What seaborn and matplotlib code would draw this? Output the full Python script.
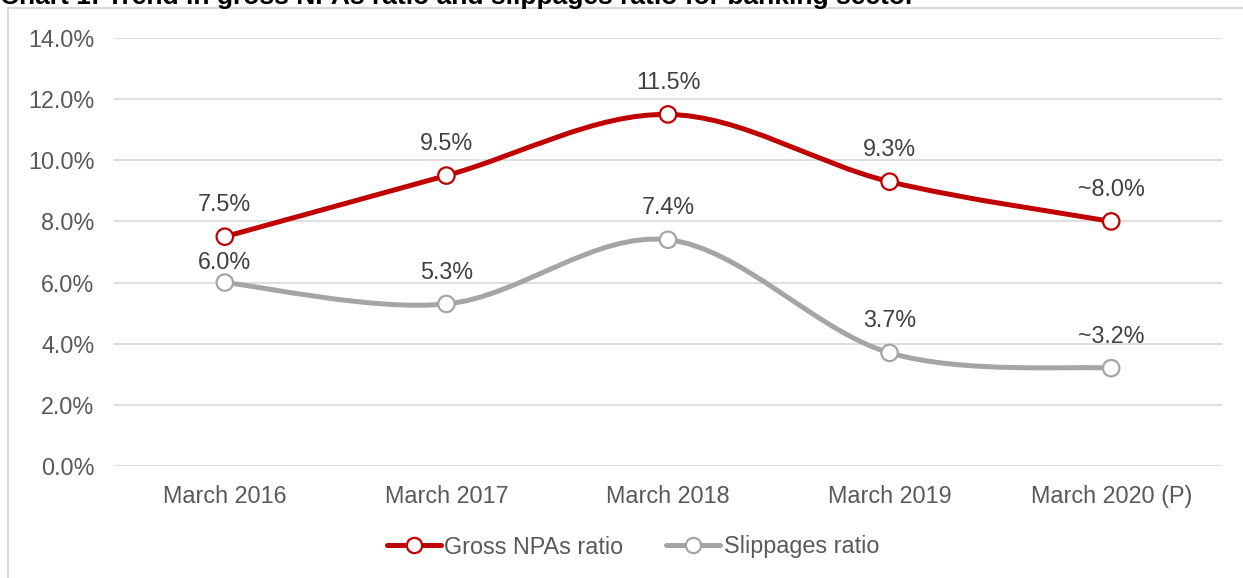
import numpy as np
import pandas as pd
import seaborn as sns
import matplotlib
matplotlib.use("Agg")
import matplotlib.pyplot as plt
from matplotlib.path import Path
from matplotlib.patches import PathPatch
from matplotlib.lines import Line2D

# ---- data ----
categories = ["March 2016", "March 2017", "March 2018", "March 2019", "March 2020 (P)"]
gross_npa = [7.5, 9.5, 11.5, 9.3, 8.0]
slippages = [6.0, 5.3, 7.4, 3.7, 3.2]
gross_labels = ["7.5%", "9.5%", "11.5%", "9.3%", "~8.0%"]
slip_labels = ["6.0%", "5.3%", "7.4%", "3.7%", "~3.2%"]
yticks = [0, 2, 4, 6, 8, 10, 12, 14]
title = "Chart 1: Trend in gross NPAs ratio and slippages ratio for banking sector"

RED = "#C00000"
GREY = "#A5A5A5"
FONT = "Liberation Sans"

sns.set_theme(style="white")
plt.rcParams["font.family"] = [FONT, "DejaVu Sans"]

W, H = 1243, 578
fig = plt.figure(figsize=(W / 100, H / 100), dpi=100)
ax = fig.add_axes([114 / W, 1 - 466 / H, (1222 - 114) / W, (466 - 38) / H])

df = pd.DataFrame({
    "x": list(range(len(categories))) * 2,
    "value": gross_npa + slippages,
    "series": ["Gross NPAs ratio"] * len(categories) + ["Slippages ratio"] * len(categories),
})


def smooth_path(xs, ys):
    """Catmull-Rom style Bezier path through the points (Excel-like smoothing)."""
    pts = np.column_stack([xs, ys]).astype(float)
    n = len(pts)
    verts = [pts[0]]
    codes = [Path.MOVETO]
    for i in range(n - 1):
        p0 = pts[i - 1] if i > 0 else pts[i]
        p1 = pts[i]
        p2 = pts[i + 1]
        p3 = pts[i + 2] if i + 2 < n else pts[i + 1]
        c1 = p1 + (p2 - p0) / 6.0
        c2 = p2 - (p3 - p1) / 6.0
        verts += [c1, c2, p2]
        codes += [Path.CURVE4] * 3
    return Path(verts, codes)


for name, col in [("Gross NPAs ratio", RED), ("Slippages ratio", GREY)]:
    sub = df[df.series == name]
    patch = PathPatch(smooth_path(sub.x.values, sub.value.values), facecolor="none",
                      edgecolor=col, lw=3.6, capstyle="round", joinstyle="round", zorder=3)
    ax.add_patch(patch)

sns.scatterplot(data=df, x="x", y="value", hue="series",
                palette={"Gross NPAs ratio": RED, "Slippages ratio": GREY},
                ax=ax, s=140, facecolor="white", linewidth=1.6, zorder=4, legend=False)
# make marker faces white with colored edges
for coll in ax.collections:
    ec = coll.get_facecolors()
    coll.set_edgecolors(ec)
    coll.set_facecolors("white")

# data labels
for i, (v, t) in enumerate(zip(gross_npa, gross_labels)):
    ax.annotate(t, (i, v), xytext=(0, 23), textcoords="offset points",
                ha="center", va="center", fontsize=16.8, color="#404040", zorder=5)
for i, (v, t) in enumerate(zip(slippages, slip_labels)):
    off = 14.5 if i == 0 else 23
    ax.annotate(t, (i, v), xytext=(0, off), textcoords="offset points",
                ha="center", va="center", fontsize=16.8, color="#404040", zorder=5)

ax.set_xlim(-0.5, len(categories) - 0.5)
ax.set_ylim(0, 14)
ax.set_xticks(range(len(categories)))
ax.set_xticklabels(categories)
ax.set_yticks(yticks)
ax.set_yticklabels([f"{t:.1f}%" for t in yticks])
ax.tick_params(axis="both", length=0, labelsize=16.8, labelcolor="#595959")
ax.tick_params(axis="x", pad=14)
ax.tick_params(axis="y", pad=14)
ax.set_xlabel("")
ax.set_ylabel("")
ax.grid(axis="y", color="#D9D9D9", lw=1.2)
ax.grid(axis="x", visible=False)
ax.set_axisbelow(True)
for s in ax.spines.values():
    s.set_visible(False)

handles = [
    Line2D([], [], color=RED, lw=3.6, marker="o", markersize=11, markerfacecolor="white",
           markeredgecolor=RED, markeredgewidth=1.6),
    Line2D([], [], color=GREY, lw=3.6, marker="o", markersize=11, markerfacecolor="white",
           markeredgecolor=GREY, markeredgewidth=1.6),
]
fig.legend(handles, ["Gross NPAs ratio", "Slippages ratio"], loc="center",
           bbox_to_anchor=(633 / W, 1 - 547 / H), ncol=2, frameon=False,
           fontsize=16.8, labelcolor="#595959", handlelength=2.3, handletextpad=0.15,
           columnspacing=1.85)

# frame of the chart area (top and left border)
fig.add_artist(Line2D([8 / W, 1], [1 - 8 / H, 1 - 8 / H], transform=fig.transFigure,
                      color="#D9D9D9", lw=1.5))
fig.add_artist(Line2D([8 / W, 8 / W], [0, 1 - 8 / H], transform=fig.transFigure,
                      color="#D9D9D9", lw=1.5))

# title, cut at the top edge as in the reference
fig.text(0 / W, 1 - 4 / H, title, ha="left", va="baseline", fontsize=19,
         fontweight="bold", color="black")

fig.savefig("out.png", dpi=100, facecolor="white")
